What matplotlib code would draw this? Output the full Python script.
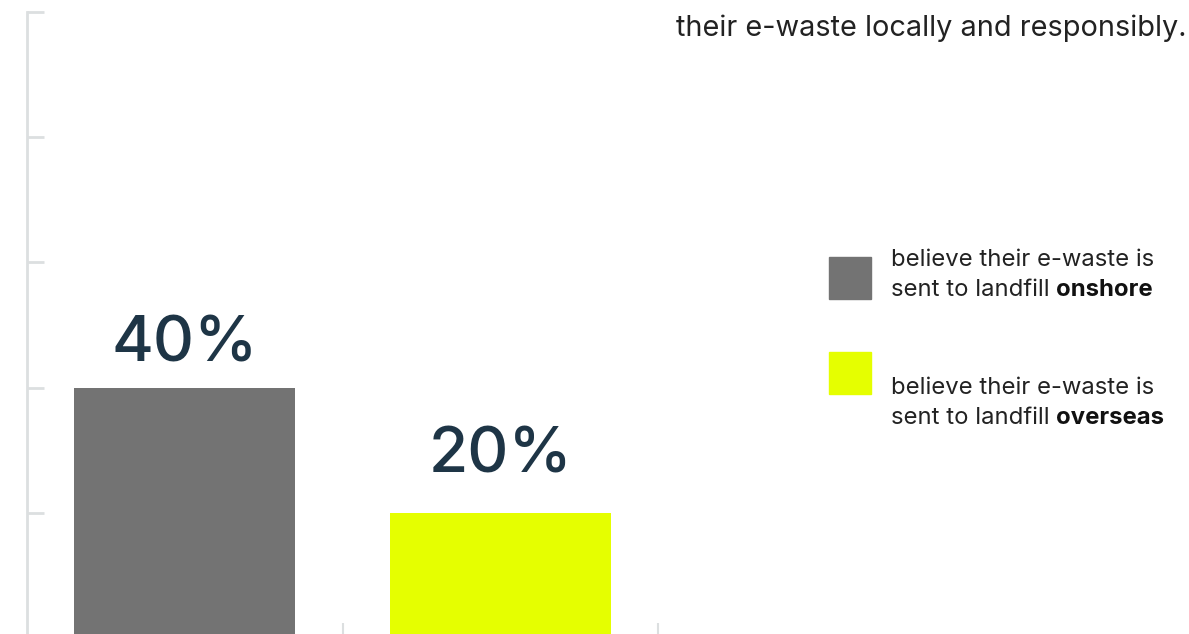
import matplotlib
matplotlib.use("Agg")
import matplotlib.pyplot as plt

# data
categories = ["onshore", "overseas"]
values = [40, 20]
value_labels = ["40%", "20%"]
legend_lines = ["believe their e-waste is", "sent to landfill "]
bar_colors = ["#737373", "#e5ff00"]
y_ticks = [0, 20, 40, 60, 80, 100]

plt.rcParams["font.family"] = ["Inter", "DejaVu Sans"]

W, H = 1189, 634
fig = plt.figure(figsize=(W / 100, H / 100), dpi=100)
fig.patch.set_facecolor("white")

# axes placed so that 100% sits at y=12 px and 0% just below the bottom edge
left, right = 27, 658
top, bottom = 12, 638
ax = fig.add_axes([left / W, 1 - bottom / H, (right - left) / W, (bottom - top) / H])

x = [0.5, 1.5]
ax.bar(x, values, width=0.7, color=bar_colors, zorder=2)
label_gap = [19, 29]  # points between bar top and label baseline
for xi, v, lab, gap in zip(x, values, value_labels, label_gap):
    ax.annotate(lab, (xi, v), xytext=(0, gap), textcoords="offset points",
                ha="center", va="baseline", fontsize=46,
                color="#1e3546", fontweight="medium")

ax.set_xlim(0, 2)
ax.set_ylim(0, 100)
ax.set_yticks(y_ticks)
ax.set_yticklabels([])
ax.set_xticks([1, 2])
ax.set_xticklabels([])
grey = "#dcdfe0"
ax.tick_params(axis="y", direction="in", length=12, width=2, color=grey)
ax.tick_params(axis="x", direction="in", length=11, width=1.5, color=grey)
for s in ["top", "right"]:
    ax.spines[s].set_visible(False)
ax.spines["left"].set_color(grey)
ax.spines["left"].set_linewidth(2)
ax.spines["bottom"].set_color(grey)
ax.set_facecolor("none")

# title fragment at the top right
fig.text(1187 / W, 1 - 28 / H, "their e-waste locally and responsibly.",
         ha="right", va="center", fontsize=20.8, color="#222222")

# legend drawn by hand
renderer = fig.canvas.get_renderer()
sq = 42
legend_y = [257, 352]
text_y = [260, 388]
for col, cat, ly, ty in zip(bar_colors, categories, legend_y, text_y):
    fig.patches.append(plt.Rectangle((829 / W, 1 - (ly + sq) / H), sq / W, sq / H,
                                     transform=fig.transFigure, color=col, figure=fig))
    fig.text(891 / W, 1 - ty / H, legend_lines[0], ha="left", va="center",
             fontsize=17.2, color="#222222")
    t = fig.text(891 / W, 1 - (ty + 30) / H, legend_lines[1], ha="left", va="center",
                 fontsize=17.2, color="#222222")
    bb = t.get_window_extent(renderer)
    fig.text(bb.x1 / W, 1 - (ty + 30) / H, cat, ha="left", va="center",
             fontsize=17.2, color="#111111", fontweight="bold")

fig.savefig("out.png", dpi=100)
